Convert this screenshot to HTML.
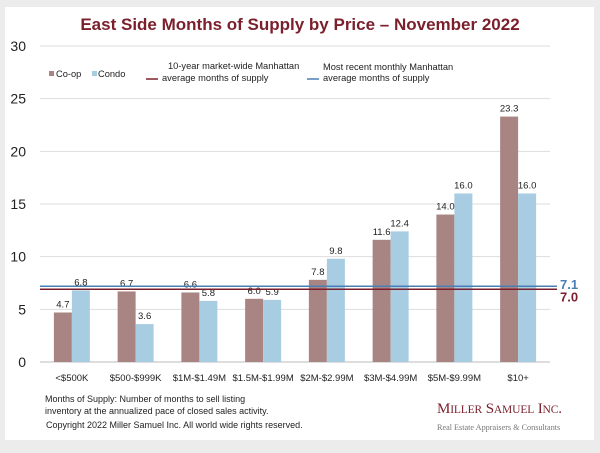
<!DOCTYPE html>
<html><head><meta charset="utf-8"><style>
body{margin:0;background:#ececec;font-family:"Liberation Sans",Arial,sans-serif}
</style></head><body>
<svg width="600" height="448" xmlns="http://www.w3.org/2000/svg" font-family="Liberation Sans, Arial, sans-serif">
<rect x="0" y="0" width="600" height="448" fill="#ececec"/>
<rect x="5" y="7" width="589" height="433" fill="#fff"/>
<text x="300" y="30" text-anchor="middle" font-size="17" font-weight="bold" fill="#7a1f2b">East Side Months of Supply by Price – November 2022</text>
<g id="grid"></g>
<g id="bars"></g>
<g id="legend" font-size="9.3" fill="#222">
<rect x="49" y="71" width="5" height="5" fill="#a88583"/>
<text x="56" y="77">Co-op</text>
<rect x="92" y="71" width="5" height="5" fill="#a8cde2"/>
<text x="98" y="77">Condo</text>
<line x1="146" y1="79" x2="158" y2="79" stroke="#7a1f2b" stroke-width="1.5"/>
<text x="168" y="69">10-year  market-wide Manhattan</text>
<text x="162" y="81">average months of supply</text>
<line x1="307" y1="79" x2="319" y2="79" stroke="#4a7fb5" stroke-width="1.5"/>
<text x="323" y="70">Most recent monthly Manhattan</text>
<text x="323" y="81">average months of supply</text>
</g>
<text x="45" y="402" font-size="9" fill="#222">Months of Supply: Number of months to sell listing</text>
<text x="45" y="414" font-size="9" fill="#222">inventory at the annualized pace of closed sales activity.</text>
<text x="46" y="428" font-size="9" fill="#222">Copyright 2022 Miller Samuel Inc.  All world wide rights reserved.</text>
<text x="437" y="413" font-family="Liberation Serif, serif" font-size="15" fill="#7a1f2b" textLength="125">M<tspan font-size="11.5">ILLER</tspan> S<tspan font-size="11.5">AMUEL</tspan> I<tspan font-size="11.5">NC</tspan>.</text>
<text x="437" y="430" font-family="Liberation Serif, serif" font-size="8.2" fill="#777">Real Estate Appraisers &amp; Consultants</text>
</svg>
<script>
const categories=["<$500K","$500-$999K","$1M-$1.49M","$1.5M-$1.99M","$2M-$2.99M","$3M-$4.99M","$5M-$9.99M","$10+"];
const coop=[4.7,6.7,6.6,6.0,7.8,11.6,14.0,23.3];
const condo=[6.8,3.6,5.8,5.9,9.8,12.4,16.0,16.0];
const yTicks=[0,5,10,15,20,25,30];
const tenYearAvg=7.0;
const recentAvg=7.1;
const NS="http://www.w3.org/2000/svg";
const X0=40,X1=550,Y0=362,Y1=46,YMAX=30;
const y=v=>Y0-(v/YMAX)*(Y0-Y1);
const bw=(X1-X0)/categories.length;
const xc=i=>X0+bw*(i+0.5);
function mk(t,a,p,txt){const e=document.createElementNS(NS,t);for(const k in a)e.setAttribute(k,a[k]);if(txt!=null)e.textContent=txt;p.appendChild(e);return e;}
const grid=document.getElementById('grid'),bars=document.getElementById('bars');
yTicks.forEach(t=>{
  const l=mk('line',{x1:X0,x2:X1,y1:y(t),y2:y(t),stroke:t===0?'#bbb':'#ddd','stroke-width':1},grid);
  
  
  const tx=mk('text',{x:26,y:y(t)+5,'text-anchor':'end','font-size':14,fill:'#222'},grid,String(t));
  
  
});
const barW=18;
categories.forEach((c,i)=>{
  const cx=xc(i);
  const r1=mk('rect',{x:cx-barW,y:y(coop[i]),width:barW,height:Y0-y(coop[i]),fill:'#a88583'},bars);
  
  
  const r2=mk('rect',{x:cx,y:y(condo[i]),width:barW,height:Y0-y(condo[i]),fill:'#a8cde2'},bars);
  
  
  const t1=mk('text',{x:cx-barW/2,y:y(coop[i])-5,'text-anchor':'middle','font-size':9.5,fill:'#222'},bars,coop[i].toFixed(1));
  
  
  const t2=mk('text',{x:cx+barW/2,y:y(condo[i])-5,'text-anchor':'middle','font-size':9.5,fill:'#222'},bars,condo[i].toFixed(1));
  
  
  const tl=mk('text',{x:cx,y:y(0)+19,'text-anchor':'middle','font-size':9.5,fill:'#222'},bars,c);
  
  
});
const l1=mk('line',{x1:X0,x2:557,y1:y(recentAvg)-1,y2:y(recentAvg)-1,stroke:'#4a7fb5','stroke-width':1.5},bars);


const l2=mk('line',{x1:X0,x2:557,y1:y(tenYearAvg)+1,y2:y(tenYearAvg)+1,stroke:'#7a1f2b','stroke-width':1.5},bars);


const a1=mk('text',{x:560,y:y(recentAvg)+2,'font-size':13,'font-weight':'bold',fill:'#4a7fb5'},bars,recentAvg.toFixed(1));


const a2=mk('text',{x:560,y:y(tenYearAvg)+13,'font-size':13,'font-weight':'bold',fill:'#7a1f2b'},bars,tenYearAvg.toFixed(1));


</script>
</body></html>
